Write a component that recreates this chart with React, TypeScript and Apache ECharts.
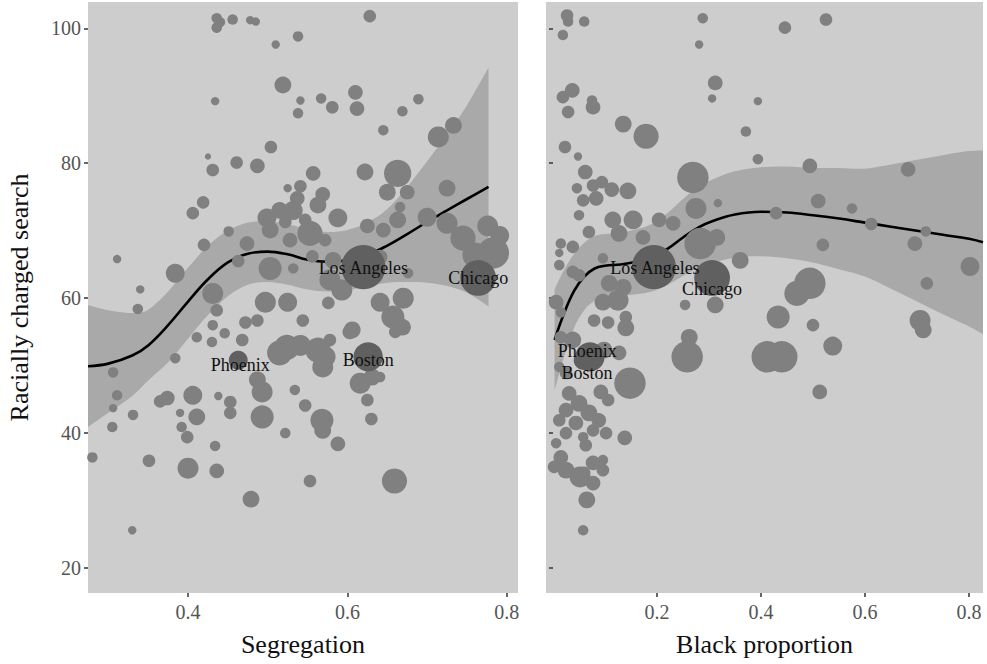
import React, { useEffect, useRef } from "react";
import * as echarts from "echarts";

// ---------- tick labels ----------
const searchTicks = [20, 40, 60, 80, 100];
const segregationTicks = [0.4, 0.6, 0.8];
const blackTicks = [0.2, 0.4, 0.6, 0.8];

// ---------- metro areas: [segregation, racially charged search, population (k)] ----------
const segregationPoints: number[][] = [
  [0.436, 101.5, 625], [0.44, 100.9, 625], [0.436, 100.1, 625], [0.456, 101.3, 625],
  [0.478, 101.2, 400], [0.485, 101.0, 400], [0.538, 98.8, 625], [0.51, 97.6, 400],
  [0.628, 101.8, 900], [0.519, 91.6, 1600], [0.434, 89.2, 400], [0.541, 89.3, 400],
  [0.538, 87.4, 625], [0.567, 89.6, 625], [0.581, 88.3, 900], [0.61, 90.5, 1225],
  [0.612, 88.1, 1225], [0.669, 87.7, 625], [0.689, 89.5, 625], [0.645, 84.9, 625],
  [0.714, 83.9, 2500], [0.733, 85.6, 1600], [0.504, 82.4, 900], [0.425, 81.0, 225],
  [0.431, 79.0, 900], [0.461, 80.1, 900], [0.487, 79.6, 1225], [0.557, 78.5, 1225],
  [0.622, 78.7, 1600], [0.663, 78.5, 4225], [0.65, 75.7, 1600], [0.675, 75.7, 1225],
  [0.569, 75.4, 1225], [0.725, 76.3, 1600], [0.419, 74.2, 900], [0.406, 72.6, 900],
  [0.525, 76.3, 400], [0.537, 74.8, 1225], [0.532, 73.0, 2025], [0.515, 73.0, 1600],
  [0.499, 71.9, 2025], [0.503, 70.1, 1600], [0.553, 69.6, 3600], [0.547, 71.6, 900],
  [0.522, 71.3, 900], [0.451, 69.9, 625], [0.588, 71.9, 2025], [0.625, 70.7, 1225],
  [0.645, 70.1, 1225], [0.666, 73.5, 625], [0.663, 71.6, 1600], [0.7, 72.0, 2025],
  [0.776, 70.7, 2500], [0.745, 68.9, 3600], [0.725, 71.1, 2500], [0.42, 67.9, 900],
  [0.474, 68.1, 1225], [0.641, 66.1, 1225], [0.311, 65.8, 400], [0.384, 63.7, 2025],
  [0.34, 61.3, 400], [0.337, 58.4, 625], [0.431, 60.7, 2500], [0.436, 58.2, 900],
  [0.503, 64.4, 3025], [0.532, 64.4, 625], [0.463, 65.5, 900], [0.556, 66.2, 900],
  [0.582, 65.6, 1600], [0.578, 62.7, 2500], [0.593, 61.2, 2500], [0.676, 63.7, 625],
  [0.783, 66.7, 5625], [0.791, 69.3, 2025], [0.76, 66.4, 3600], [0.497, 59.4, 2500],
  [0.525, 59.4, 2025], [0.544, 56.7, 900], [0.472, 56.4, 900], [0.487, 56.7, 900],
  [0.641, 59.4, 2025], [0.67, 60.0, 2500], [0.657, 57.2, 3025], [0.669, 55.7, 1600],
  [0.576, 59.3, 900], [0.606, 55.3, 1600], [0.578, 53.8, 900], [0.431, 56.0, 625],
  [0.411, 54.2, 625], [0.446, 54.8, 625], [0.43, 53.5, 625], [0.468, 53.8, 900],
  [0.384, 51.1, 625], [0.524, 52.7, 3600], [0.515, 51.9, 3600], [0.541, 53.0, 2500],
  [0.563, 52.3, 3600], [0.569, 49.8, 2500], [0.572, 51.3, 2500], [0.616, 47.4, 2500],
  [0.631, 48.3, 1600], [0.641, 48.3, 625], [0.625, 44.9, 900], [0.603, 55.0, 1225],
  [0.66, 55.0, 900], [0.487, 47.9, 1600], [0.493, 46.1, 2500], [0.406, 45.6, 2025],
  [0.374, 45.2, 1225], [0.365, 44.7, 900], [0.438, 45.5, 400], [0.453, 44.6, 900],
  [0.453, 43.0, 900], [0.534, 46.4, 625], [0.547, 44.1, 900], [0.568, 41.9, 3025],
  [0.569, 40.4, 1600], [0.39, 43.0, 400], [0.411, 42.4, 1600], [0.392, 40.9, 625],
  [0.399, 39.4, 900], [0.493, 42.4, 3025], [0.522, 40.0, 625], [0.434, 38.1, 625],
  [0.306, 49.0, 625], [0.311, 45.6, 625], [0.306, 43.7, 400], [0.331, 42.7, 625],
  [0.305, 40.9, 625], [0.28, 36.4, 625], [0.351, 35.9, 900], [0.4, 34.8, 2500],
  [0.436, 34.4, 1225], [0.553, 32.9, 900], [0.479, 30.2, 1600], [0.33, 25.6, 400],
  [0.588, 38.4, 1225], [0.63, 42.1, 900], [0.659, 32.9, 3600],
  [0.541, 76.6, 900], [0.563, 73.8, 1600], [0.528, 68.6, 1225], [0.572, 68.6, 900],
];

// ---------- metro areas: [black proportion, racially charged search, population (k)] ----------
const blackPoints: number[][] = [
  [0.027, 101.9, 900], [0.029, 101.0, 625], [0.06, 101.0, 625], [0.019, 99.0, 625],
  [0.288, 101.5, 625], [0.281, 97.6, 400], [0.446, 100.1, 900], [0.525, 101.3, 900],
  [0.037, 90.8, 1225], [0.019, 89.8, 900], [0.029, 87.6, 900], [0.077, 88.3, 1225],
  [0.075, 89.3, 625], [0.312, 91.9, 1225], [0.306, 89.6, 400], [0.394, 89.2, 400],
  [0.135, 85.8, 1600], [0.179, 84.0, 3600], [0.371, 84.7, 625], [0.023, 82.4, 900],
  [0.048, 81.0, 400], [0.394, 80.6, 625], [0.269, 77.9, 5625], [0.062, 78.7, 1225],
  [0.046, 76.3, 625], [0.077, 76.7, 900], [0.094, 77.2, 900], [0.113, 76.1, 1225],
  [0.144, 75.9, 1600], [0.058, 74.5, 900], [0.083, 74.8, 1225], [0.05, 72.3, 625],
  [0.115, 71.6, 1600], [0.154, 71.6, 2025], [0.127, 69.6, 1600], [0.173, 69.0, 1225],
  [0.204, 71.6, 1225], [0.231, 71.1, 1225], [0.069, 69.8, 900], [0.275, 73.3, 2500],
  [0.317, 74.1, 400], [0.429, 72.6, 900], [0.015, 68.1, 625], [0.038, 67.6, 900],
  [0.012, 66.7, 400], [0.096, 65.9, 625], [0.283, 68.1, 5625], [0.315, 69.0, 1600],
  [0.36, 65.6, 1600], [0.254, 59.0, 625], [0.312, 59.0, 1600], [0.012, 64.9, 625],
  [0.038, 63.9, 900], [0.05, 63.4, 900], [0.108, 62.2, 1600], [0.135, 61.6, 1600],
  [0.125, 59.7, 2500], [0.096, 59.4, 1600], [0.006, 59.4, 1225], [0.015, 57.9, 625],
  [0.079, 56.7, 900], [0.106, 56.4, 900], [0.14, 57.2, 900], [0.14, 55.6, 1600],
  [0.262, 54.2, 1600], [0.258, 51.3, 5625], [0.038, 53.8, 1600], [0.015, 54.2, 900],
  [0.098, 52.3, 1600], [0.127, 51.9, 1225], [0.148, 47.4, 5625], [0.025, 48.9, 900],
  [0.012, 49.8, 625], [0.092, 46.1, 1225], [0.106, 44.9, 900], [0.031, 45.9, 1225],
  [0.05, 44.4, 1600], [0.025, 43.4, 1225], [0.069, 43.0, 1600], [0.088, 41.9, 1225],
  [0.044, 41.5, 1225], [0.012, 41.9, 900], [0.077, 40.4, 900], [0.102, 40.0, 900],
  [0.058, 39.4, 625], [0.025, 40.0, 900], [0.138, 39.3, 1225], [0.006, 38.5, 625],
  [0.063, 38.2, 900], [0.015, 36.4, 1225], [0.025, 34.5, 1600], [0.002, 35.0, 900],
  [0.077, 35.6, 1225], [0.096, 36.0, 625], [0.06, 34.1, 900], [0.096, 34.5, 900],
  [0.077, 32.6, 1225], [0.065, 30.1, 1600], [0.058, 25.6, 625], [0.052, 33.5, 2500],
  [0.412, 51.3, 5625], [0.44, 51.3, 5625], [0.538, 52.9, 2025], [0.513, 46.1, 1225],
  [0.712, 55.3, 1600], [0.706, 56.7, 2500], [0.494, 79.6, 1225], [0.683, 79.1, 1225],
  [0.51, 74.4, 1225], [0.575, 73.3, 625], [0.612, 71.0, 900], [0.717, 69.9, 625],
  [0.696, 68.1, 1225], [0.519, 67.9, 900], [0.802, 64.7, 2025], [0.719, 62.2, 900],
  [0.494, 62.2, 5625], [0.469, 60.7, 3600], [0.433, 57.2, 3025], [0.5, 56.0, 900],
];

// ---------- labelled cities ----------
const cityNames = ["Los Angeles", "Chicago", "Boston", "Phoenix"];
const citySearch = [64.6, 63.0, 51.3, 50.8];
const cityPop = [11025, 7225, 4900, 2025];
const citySegregation = [0.62, 0.764, 0.626, 0.463];
const cityBlack = [0.194, 0.306, 0.071, 0.058];

// ---------- loess fits with confidence band ----------
const segFitX = [0.2745, 0.3, 0.33, 0.35, 0.375, 0.4, 0.425, 0.45, 0.475, 0.5, 0.525, 0.55, 0.575, 0.6, 0.625, 0.65, 0.675, 0.7, 0.725, 0.75, 0.777];
const segFit = [49.9, 50.3, 51.5, 53, 56, 59.5, 62.8, 65.3, 66.6, 66.9, 66.5, 65.7, 65.4, 65.6, 66.4, 67.8, 69.5, 71.3, 73, 74.7, 76.5];
const segLower = [40.9, 43, 45.5, 47.8, 50.5, 54, 57.5, 60.3, 62, 62.4, 62, 61.3, 61, 61.2, 61.8, 62.3, 62.4, 62.3, 61.8, 60.8, 58.8];
const segUpper = [59, 58.2, 57.8, 58.3, 61, 64.5, 67.8, 70, 71.2, 71.4, 71, 70.2, 69.8, 70.1, 71.2, 73.2, 76.5, 80.3, 84.3, 88.6, 94.2];

const blackFitX = [0.003, 0.02, 0.04, 0.06, 0.08, 0.1, 0.13, 0.16, 0.19, 0.22, 0.25, 0.28, 0.31, 0.35, 0.4, 0.45, 0.5, 0.55, 0.6, 0.65, 0.7, 0.75, 0.8, 0.827];
const blackFit = [53.8, 57.5, 61, 63.2, 64.4, 64.8, 65, 65.4, 66, 67.3, 69, 70.5, 71.5, 72.4, 72.8, 72.7, 72.3, 71.8, 71.2, 70.6, 70, 69.4, 68.8, 68.3];
const blackLower = [46.3, 51, 55.5, 58.2, 59.6, 60.1, 60.3, 60.6, 61, 62, 63.3, 64.5, 65.3, 66, 66.2, 65.9, 65.3, 64.3, 63.2, 61.4, 59.5, 57.6, 55.8, 54.7];
const blackUpper = [61.3, 64, 66.5, 68.2, 69.2, 69.5, 69.7, 70.2, 71, 72.6, 74.7, 76.5, 77.7, 78.8, 79.4, 79.5, 79.3, 79.3, 79.2, 79.8, 80.5, 81.2, 81.8, 81.9];

const FONT = "'Liberation Serif', 'Times New Roman', serif";
const BG = "#cdcdcd";
const BAND = "#a9a9a9";
const DOT = "#808080";
const CITY = "#606060";

const popToSize = (pop: number) => 0.42 * Math.sqrt(pop);

// Catmull-Rom curve through pixel points, as cubic Bezier path commands
function curveThrough(pts: number[][]): string {
  let d = "";
  for (let i = 0; i < pts.length - 1; i++) {
    const p0 = pts[i - 1] || pts[i];
    const p1 = pts[i];
    const p2 = pts[i + 1];
    const p3 = pts[i + 2] || p2;
    const c1x = p1[0] + (p2[0] - p0[0]) / 6;
    const c1y = p1[1] + (p2[1] - p0[1]) / 6;
    const c2x = p2[0] - (p3[0] - p1[0]) / 6;
    const c2y = p2[1] - (p3[1] - p1[1]) / 6;
    d += ` C${c1x},${c1y} ${c2x},${c2y} ${p2[0]},${p2[1]}`;
  }
  return d;
}

function bandSeries(xs: number[], lo: number[], hi: number[], axis: number) {
  return {
    type: "custom",
    xAxisIndex: axis,
    yAxisIndex: axis,
    silent: true,
    data: xs.map((x, i) => [x, lo[i], hi[i]]),
    encode: { x: 0, y: [1, 2] },
    renderItem: (params: any, api: any) => {
      if (params.dataIndex !== 0) return null;
      const up = xs.map((x, i) => api.coord([x, hi[i]]));
      const low = xs.map((x, i) => api.coord([x, lo[i]])).reverse();
      const pathData =
        `M${up[0][0]},${up[0][1]}` +
        curveThrough(up) +
        ` L${low[0][0]},${low[0][1]}` +
        curveThrough(low) +
        " Z";
      return { type: "path", shape: { pathData }, style: { fill: BAND } };
    },
    z: 1,
  };
}

function fitSeries(xs: number[], ys: number[], axis: number) {
  return {
    type: "line",
    xAxisIndex: axis,
    yAxisIndex: axis,
    smooth: 0.4,
    showSymbol: false,
    silent: true,
    lineStyle: { color: "#000", width: 2.6 },
    data: xs.map((x, i) => [x, ys[i]]),
    z: 2,
  };
}

function dotSeries(points: number[][], axis: number) {
  return {
    type: "scatter",
    xAxisIndex: axis,
    yAxisIndex: axis,
    silent: true,
    data: points,
    symbolSize: (d: number[]) => popToSize(d[2]),
    itemStyle: { color: DOT, opacity: 1 },
    z: 3,
  };
}

function citySeries(xs: number[], axis: number, offsets: number[][]) {
  return {
    type: "scatter",
    xAxisIndex: axis,
    yAxisIndex: axis,
    silent: true,
    data: cityNames.map((n, i) => ({
      name: n,
      value: [xs[i], citySearch[i], cityPop[i]],
      label: { offset: offsets[i] },
    })),
    symbolSize: (d: number[]) => popToSize(d[2]),
    itemStyle: { color: CITY, opacity: 1 },
    label: {
      show: true,
      position: "inside",
      formatter: "{b}",
      color: "#111",
      fontSize: 18,
      lineHeight: 16,
      fontFamily: FONT,
    },
    z: 4,
  };
}

function xAxis(grid: number, min: number, max: number, ticks: number[], name: string) {
  return {
    type: "value",
    gridIndex: grid,
    min,
    max,
    axisLine: { show: false },
    splitLine: { show: false },
    axisTick: { show: true, customValues: ticks, length: 4, lineStyle: { color: "#333", width: 1.5 } },
    axisLabel: {
      customValues: ticks,
      formatter: (v: number) => v.toFixed(1),
      color: "#555",
      fontSize: 20,
      fontFamily: FONT,
      margin: 9,
    },
    name,
    nameLocation: "middle",
    nameGap: 38,
    nameTextStyle: { fontSize: 26, color: "#111", fontFamily: FONT },
  };
}

function yAxis(grid: number, showLabels: boolean) {
  return {
    type: "value",
    gridIndex: grid,
    min: 16.3,
    max: 103.9,
    axisLine: { show: false },
    splitLine: { show: false },
    axisTick: { show: true, customValues: searchTicks, length: 4, lineStyle: { color: "#333", width: 1.5 } },
    axisLabel: {
      show: showLabels,
      customValues: searchTicks,
      color: "#555",
      fontSize: 20,
      fontFamily: FONT,
      margin: 7,
    },
    name: showLabels ? "Racially charged search" : "",
    nameLocation: "middle",
    nameGap: 56,
    nameTextStyle: { fontSize: 26, color: "#111", fontFamily: FONT },
  };
}

export default function App() {
  const ref = useRef<HTMLDivElement>(null);
  useEffect(() => {
    if (!ref.current) return;
    const chart = echarts.init(ref.current, null, { renderer: "svg" });
    const option: any = {
      animation: false,
      backgroundColor: "#ffffff",
      grid: [
        { left: 88, top: 2, width: 430, height: 591, show: true, backgroundColor: BG, borderWidth: 0 },
        { left: 546, top: 2, width: 437, height: 591, show: true, backgroundColor: BG, borderWidth: 0 },
      ],
      xAxis: [
        xAxis(0, 0.2745, 0.814, segregationTicks, "Segregation"),
        xAxis(1, -0.0135, 0.827, blackTicks, "Black proportion"),
      ],
      yAxis: [yAxis(0, true), yAxis(1, false)],
      series: [
        bandSeries(segFitX, segLower, segUpper, 0),
        bandSeries(blackFitX, blackLower, blackUpper, 1),
        fitSeries(segFitX, segFit, 0),
        fitSeries(blackFitX, blackFit, 1),
        dotSeries(segregationPoints, 0),
        dotSeries(blackPoints, 1),
        citySeries(citySegregation, 0, [[0, 1], [0, 0], [0, 3], [2, 5]]),
        citySeries(cityBlack, 1, [[1, 1], [0, 11], [-3, 16], [4, -9]]),
      ],
    };
    chart.setOption(option);
    return () => chart.dispose();
  }, []);
  return (
    <div
      ref={ref}
      style={{ position: "absolute", left: 0, top: 0, width: 987, height: 664 }}
    />
  );
}
